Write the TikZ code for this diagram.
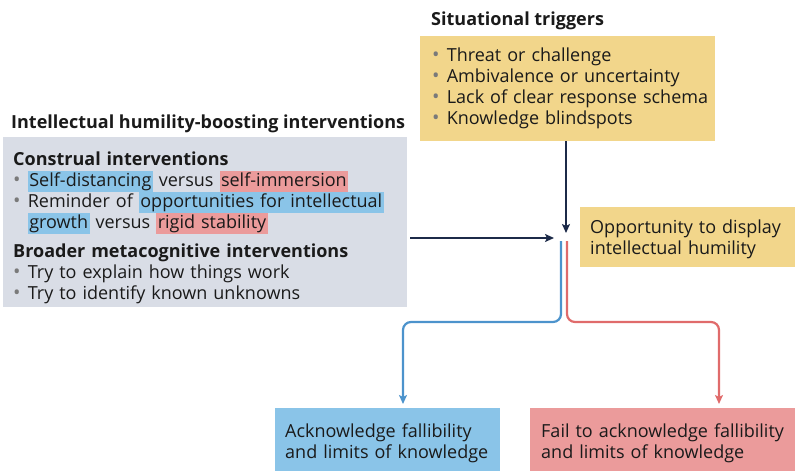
\documentclass[tikz,border=0pt]{standalone}
\usepackage{fontspec}
\setmainfont{Open Sans}
\usetikzlibrary{arrows.meta}
\definecolor{yellowbg}{HTML}{F2D68B}
\definecolor{graybg}{HTML}{D9DDE6}
\definecolor{hlblue}{HTML}{8AC4E8}
\definecolor{hlred}{HTML}{EB9B9B}
\definecolor{navy}{HTML}{1C2A48}
\definecolor{lineblue}{HTML}{4C93CC}
\definecolor{linered}{HTML}{E06B6B}
\definecolor{textc}{HTML}{1A1A1A}
\definecolor{bulletc}{HTML}{7A7A7A}
\newcommand{\bu}{{\color{bulletc}\scalebox{1.1}{\textbullet}}\hspace{0.4em}}
\newcommand{\hlb}[1]{{\setlength{\fboxsep}{0pt}\colorbox{hlblue}{\strut\hspace{1.5pt}#1\hspace{1.5pt}}}}
\newcommand{\hlr}[1]{{\setlength{\fboxsep}{0pt}\colorbox{hlred}{\strut\hspace{1.5pt}#1\hspace{1.5pt}}}}
\newcommand{\bi}{\phantom{\bu}}
\tikzset{
  body/.style={font=\fontsize{18}{21}\selectfont, text=textc},
  boxed/.style={body, anchor=north west, inner ysep=0pt, align=left},
  title/.style={font=\fontsize{18}{21}\selectfont\bfseries, text=textc, anchor=base west, inner sep=0pt},
  navyarrow/.style={draw=navy, line width=2.4pt, -{Stealth[length=9pt,width=8pt,inset=2pt]}},
  bluearrow/.style={draw=lineblue, line width=2.2pt, rounded corners=8pt, -{Stealth[length=9pt,width=8pt,inset=2pt]}},
  redarrow/.style={draw=linered, line width=2.2pt, rounded corners=8pt, -{Stealth[length=9pt,width=8pt,inset=2pt]}}
}
\begin{document}
\begin{tikzpicture}[x=1pt,y=-1pt]
\useasboundingbox (0,0) rectangle (795,471);

\node[title] (ttrig) at (431,25) {Situational triggers};
\node[boxed, fill=yellowbg, minimum width=295pt, minimum height=105pt,
      text width=271pt, inner xsep=12pt] (trig) at (420,36)
 {\mbox{\bu Threat or challenge}\\
  \mbox{\bu Ambivalence or uncertainty}\\
  \mbox{\bu Lack of clear response schema}\\
  \mbox{\bu Knowledge blindspots}};

\node[title] (tint) at (11,128) {Intellectual humility-boosting interventions};
\node[boxed, fill=graybg, minimum width=404pt, minimum height=170pt,
      text width=384pt, inner xsep=10pt] (interv) at (3,137)
 {\rule{0pt}{24pt}\textbf{Construal interventions}\\
  \bu\hlb{Self-distancing} versus \hlr{self-immersion}\\
  \bu Reminder of \hlb{opportunities for intellectual}\\
  \bi\hlb{growth} versus \hlr{rigid stability}\\[8pt]
  \textbf{Broader metacognitive interventions}\\
  \bu Try to explain how things work\\
  \bu Try to identify known unknowns};

\node[boxed, fill=yellowbg, minimum width=215pt, minimum height=60pt,
      text width=195pt, inner xsep=10pt] (opp) at (580,207)
 {\rule{0pt}{18pt}Opportunity to display\\intellectual humility};

\node[boxed, fill=hlblue, minimum width=225pt, minimum height=63pt,
      text width=205pt, inner xsep=10pt] (ack) at (275,408)
 {\rule{0pt}{20pt}Acknowledge fallibility\\and limits of knowledge};

\node[boxed, fill=hlred, minimum width=265pt, minimum height=63pt,
      text width=243pt, inner xsep=11pt] (fail) at (530,408)
 {\rule{0pt}{20pt}Fail to acknowledge fallibility\\and limits of knowledge};

\coordinate (jw) at (554,238);
\coordinate (jn) at (566,233);
\coordinate (bs) at (561,241);
\coordinate (rs) at (567,241);
\coordinate (bt) at (403,404);
\coordinate (rt) at (719,404);

\draw[navyarrow] (interv.east |- jw) ++(3,0) -- (jw);
\draw[navyarrow] (trig.south -| jn) -- (jn);
\draw[bluearrow] (bs) -- (bs |- 0,322) -- (bt |- 0,322) -- (bt);
\draw[redarrow] (rs) -- (rs |- 0,322) -- (rt |- 0,322) -- (rt);
\end{tikzpicture}
\end{document}
